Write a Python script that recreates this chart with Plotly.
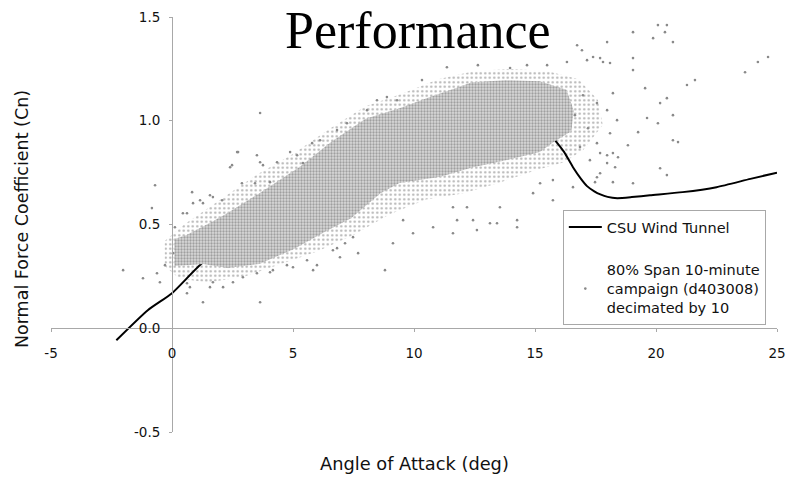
import plotly.graph_objects as go

# CSU wind tunnel curve (angle of attack in deg, normal force coefficient)
csu_angle = [-2.3, -1.0, 0.0, 1.24, 3.0, 5.0, 7.0, 9.0, 11.0, 13.0, 14.5, 15.5, 15.83,
             16.2, 16.57, 16.9, 17.15, 17.45, 17.7, 18.0, 18.4, 19.0, 19.75, 21.1, 22.5, 23.9, 25.0]
csu_cn = [-0.058, 0.087, 0.169, 0.313, 0.45, 0.60, 0.73, 0.84, 0.92, 0.97, 0.99, 0.95, 0.906,
          0.85, 0.776, 0.72, 0.685, 0.66, 0.645, 0.633, 0.627, 0.632, 0.641, 0.656, 0.68, 0.72, 0.75]

# Dense core of the field campaign data (outline of the cloud)
core_upper_angle = [0.1, 0.6, 1.6, 2.3, 3.6, 5.3, 6.6, 8.0, 9.4, 10.8, 11.8, 12.4, 13.8, 15.2, 16.3, 16.6, 16.5]
core_upper_cn = [0.43, 0.45, 0.51, 0.555, 0.65, 0.78, 0.90, 1.01, 1.06, 1.12, 1.16, 1.185, 1.195, 1.19, 1.15, 1.05, 0.95]
core_lower_angle = [15.8, 15.2, 13.8, 12.4, 11.1, 9.4, 8.6, 7.4, 6.4, 5.0, 3.6, 2.3, 1.3, 0.1]
core_lower_cn = [0.90, 0.85, 0.81, 0.775, 0.73, 0.70, 0.65, 0.53, 0.47, 0.38, 0.31, 0.29, 0.31, 0.30]

# Sparser fringe around the core
fringe_upper_angle = [-0.3, 0.5, 1.5, 2.5, 3.5, 5.0, 6.5, 8.0, 9.5, 11.0, 12.5, 14.0, 15.5, 16.8, 17.6, 17.8]
fringe_upper_cn = [0.42, 0.50, 0.58, 0.66, 0.74, 0.84, 0.96, 1.07, 1.13, 1.20, 1.24, 1.25, 1.24, 1.20, 1.10, 0.98]
fringe_lower_angle = [17.0, 16.2, 15.0, 13.5, 12.0, 10.5, 9.0, 7.5, 6.0, 4.5, 3.0, 1.5, 0.3, -0.3]
fringe_lower_cn = [0.86, 0.80, 0.76, 0.70, 0.65, 0.62, 0.55, 0.45, 0.37, 0.31, 0.25, 0.22, 0.24, 0.30]

# Scattered individual samples outside the dense cloud
scatter_angle = [
    20.08, 20.45, 20.37, 19.05, 17.98, 16.74, 16.94, 17.81, 19.05, 19.88, 20.70, 24.21, 24.63,
    23.68, 21.61, 21.28, 19.05, 19.55, 20.17, 20.45, 19.63, 20.70, 19.26, 20.08, 20.70, 20.91,
    18.84, 18.43, 17.98, 20.17, 20.45, 19.05, 18.22, 17.48, 17.69, 11.36, 12.64, 10.33, 13.97,
    14.67, 15.50, 16.32, 17.15, 17.40,
    9.55, 9.96, 10.79, 11.61, 12.60, 13.43, 14.26, 13.55, 12.19, 15.21, 15.74, 16.57, 11.61,
    12.44, 11.78, 13.14, 14.26, 14.92, 15.74, 17.56, 17.98, 18.22, 17.69, 16.86, 17.27,
    2.40, 3.51, 2.73, 0.83, 1.69, 2.07, 1.28, 0.87, 0.62, 0.12, -0.29, 2.89, 3.43, 3.64, 5.41, 4.05,
    0.62, 1.28, 1.57, 2.11, 2.93, 3.51, 4.05, 4.75, 5.00, 5.58, 5.99, 6.65, 7.15, 6.94, 7.48,
    -2.02, -1.20, -0.62, -0.50, 3.64, 2.52, 1.69, 8.80, 7.69, 6.82, 5.83, 4.17, 0.62, 0.74, 0.04, 9.13,
    3.64, 2.69, 2.48, -0.70, -0.83, 1.16, 0.45, 1.57, 3.76, 4.34, 4.88, 5.17, 5.79, 6.12, 6.82,
    7.23, 8.06, 8.47, 8.88, 9.30,
    17.69, 18.10, 18.22, 17.56, 17.98, 18.39, 18.10, 17.56, 18.31, 16.98, 16.65, 17.19,
]
scatter_cn = [
    1.461, 1.461, 1.427, 1.427, 1.379, 1.364, 1.340, 1.283, 1.302, 1.398, 1.379, 1.283, 1.307,
    1.234, 1.196, 1.172, 1.244, 1.157, 1.085, 1.109, 1.013, 1.027, 0.945, 0.988, 0.906, 0.897,
    0.882, 0.824, 0.834, 0.771, 0.738, 0.699, 0.704, 0.704, 0.747, 1.258, 1.268, 1.196, 1.254,
    1.268, 1.268, 1.283, 1.292, 1.307,
    0.521, 0.458, 0.487, 0.458, 0.473, 0.506, 0.521, 0.583, 0.583, 0.699, 0.714, 0.680, 0.583,
    0.521, 0.521, 0.506, 0.487, 0.651, 0.617, 0.728, 0.796, 0.844, 0.844, 0.873, 0.810,
    0.776, 0.834, 0.849, 0.656, 0.632, 0.617, 0.603, 0.603, 0.554, 0.487, 0.304, 0.699, 0.699, 0.800, 0.796, 0.704,
    0.217, 0.125, 0.198, 0.198, 0.246, 0.265, 0.270, 0.304, 0.294, 0.328, 0.304, 0.376, 0.410, 0.342, 0.439,
    0.280, 0.241, 0.265, 0.222, 0.125, 0.222, 0.222, 0.280, 0.362, 0.386, 0.280, 0.280, 0.169, 0.198, 0.362, 0.410,
    1.037, 0.849, 0.786, 0.689, 0.579, 0.617, 0.554, 0.641, 0.786, 0.800, 0.849, 0.834, 0.892, 0.906, 0.955,
    0.988, 1.051, 1.099, 1.114, 1.099,
    1.302, 1.278, 1.133, 1.085, 1.051, 1.003, 0.940, 0.892, 0.776, 1.123, 1.027, 0.964,
]

x_ticks = [-5, 0, 5, 10, 15, 20, 25]
y_ticks = [-0.5, 0.0, 0.5, 1.0, 1.5]

SANS = "DejaVu Sans"
AXIS_GREY = "#a8a8a8"
DOT_GREY = "#8a8a8a"
CORE_GREY = "#666666"

fig = go.Figure()

# fringe: sparse dotted texture, transparent background
fig.add_trace(go.Scatter(
    x=fringe_upper_angle + fringe_lower_angle + [fringe_upper_angle[0]],
    y=fringe_upper_cn + fringe_lower_cn + [fringe_upper_cn[0]],
    mode="none", fill="toself", fillcolor="rgba(0,0,0,0)",
    fillpattern=dict(shape=".", size=4.5, solidity=0.22, fgcolor=CORE_GREY, bgcolor="rgba(0,0,0,0)"),
    showlegend=False, hoverinfo="skip",
))

fig.add_trace(go.Scatter(
    x=csu_angle, y=csu_cn, mode="lines", name="CSU Wind Tunnel",
    line=dict(color="black", width=2, shape="spline", smoothing=0.6), legendgroup="a",
))

# dense core drawn over the wind tunnel curve
fig.add_trace(go.Scatter(
    x=core_upper_angle + core_lower_angle + [core_upper_angle[0]],
    y=core_upper_cn + core_lower_cn + [core_upper_cn[0]],
    mode="none", fill="toself", fillcolor="#d8d8d8",
    fillpattern=dict(shape=".", size=3, solidity=0.45, fgcolor=CORE_GREY, bgcolor="#d8d8d8"),
    showlegend=False, hoverinfo="skip",
))

fig.add_trace(go.Scatter(
    x=scatter_angle, y=scatter_cn, mode="markers",
    name="80% Span 10-minute<br>campaign (d403008)<br>decimated by 10",
    marker=dict(color=DOT_GREY, size=2.6, line=dict(width=0)), legendgroup="b",
))

axis_common = dict(
    showline=True, linecolor=AXIS_GREY, linewidth=1, showgrid=False, zeroline=False,
    ticks="outside", ticklen=3, tickcolor=AXIS_GREY, tickwidth=1, automargin=False,
    tickfont=dict(family=SANS, size=13.5, color="#111"), anchor="free",
)

fig.update_layout(
    width=789, height=479,
    margin=dict(l=51, r=12, t=17, b=47),
    paper_bgcolor="white", plot_bgcolor="white",
    xaxis=dict(range=[-5, 25], domain=[0, 1], position=0.25,
               tickvals=x_ticks, ticktext=[str(v) for v in x_ticks],
               ticklabelstandoff=10, **axis_common),
    yaxis=dict(range=[-0.5, 1.5], domain=[0, 1], position=1 / 6,
               tickvals=y_ticks, ticktext=[f"{v:.1f}" for v in y_ticks],
               ticklabelstandoff=6, **axis_common),
    legend=dict(x=0.705, y=0.535, xanchor="left", yanchor="top",
                bgcolor="white", bordercolor=AXIS_GREY, borderwidth=1,
                font=dict(family=SANS, size=14.5, color="#111"),
                itemwidth=33, tracegroupgap=21, traceorder="grouped"),
    showlegend=True,
    annotations=[
        dict(text="Performance", xref="paper", yref="paper", x=0.5055, y=432 / 415,
             xanchor="center", yanchor="top", showarrow=False,
             font=dict(family="Liberation Serif", size=52, color="black")),
        dict(text="Angle of Attack (deg)", xref="paper", yref="paper", x=0.5, y=-0.0747,
             xanchor="center", yanchor="middle", showarrow=False,
             font=dict(family=SANS, size=17.8, color="#111")),
        dict(text="Normal Force Coefficient (Cn)", xref="paper", yref="paper", x=-0.04, y=0.513,
             xanchor="center", yanchor="middle", showarrow=False, textangle=-90,
             font=dict(family=SANS, size=17.5, color="#111")),
    ],
)

fig.write_html("out.html")
